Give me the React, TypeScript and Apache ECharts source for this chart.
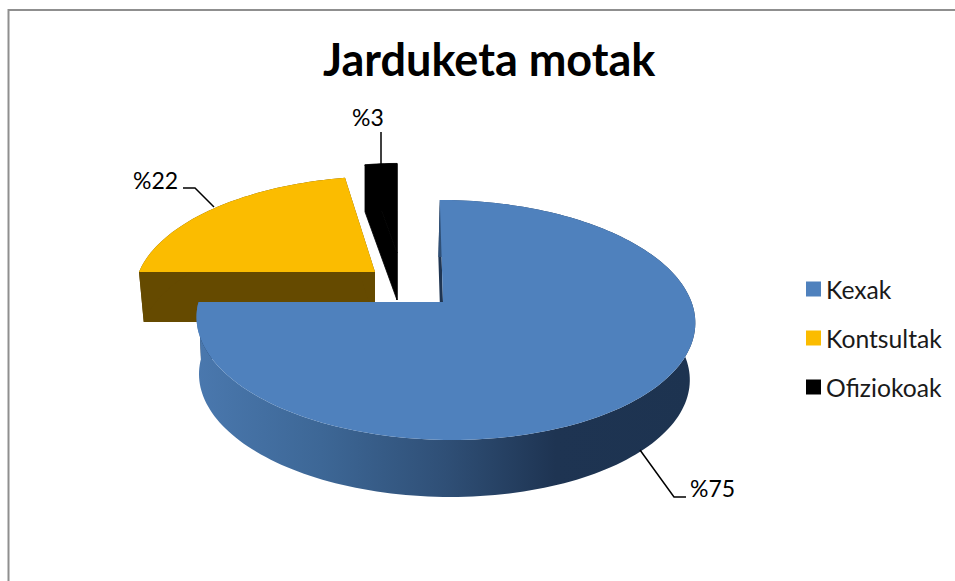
import React, { useEffect, useRef } from "react";
import * as echarts from "echarts";

const titleText = "Jarduketa motak";
const categories = ["Kexak", "Kontsultak", "Ofiziokoak"];
const values = [75, 22, 3];
const topColors = ["#4f81bd", "#fbbc00", "#000000"];
const wallColors = ["#1f3552", "#654a00", "#000000"];
const drawOrder = [1, 2, 0];
const FONT = "Lato, Carlito, 'Open Sans', sans-serif";

// Per-slice projection of the tilted, exploded 3D pie.
const projections = [
  { ax: 445, apexX: 443, ay: 302, rx: 246.5, ry: 117.3, k: 0.15, skew: 6, depth: 57, shrink: 0.984, shiftB: -1.5, seam: 0 },
  { ax: 375, apexX: 375, ay: 272, rx: 236, ry: 110, k: 0.15, skew: -10, depth: 50, shrink: 0.98, shiftB: 0, seam: 0 },
  { ax: 397, apexX: 397, ay: 253, rx: 196, ry: 103, k: 0.15, skew: 0, depth: 47, shrink: 1, shiftB: 0, seam: 0.8 },
];
// Data-label placement and leader lines.
const labelLayouts = [
  { x: 690, y: 488, line: [[640, 450], [674, 497], [686, 497]] },
  { x: 133, y: 180, line: [[183, 188], [195, 188], [214, 207]] },
  { x: 352, y: 117, line: [[381, 132], [381, 164]] },
];

const total = values.reduce((a, b) => a + b, 0);

function makeRenderItem(index: number) {
  return (_params: any, api: any) => {
    const value = api.value(0);
    const before = values.slice(0, index).reduce((a, b) => a + b, 0);
    const t0 = (before / total) * Math.PI * 2;
    const t1 = t0 + (value / total) * Math.PI * 2;
    const p = projections[index];
    const top = (t: number) => {
      const u = Math.sin(t);
      const v = Math.cos(t);
      const w = 1 + p.k * v;
      return [p.ax + (p.rx * u - p.skew * v) / w, p.ay - (p.ry * v) / w];
    };
    const down = (q: number[]) => [
      p.ax + (q[0] - p.ax) * p.shrink + p.shiftB,
      q[1] + p.depth,
    ];
    const arc: number[][] = [];
    const steps = Math.max(8, Math.round((t1 - t0) / (Math.PI / 120)));
    for (let i = 0; i <= steps; i++) arc.push(top(t0 + ((t1 - t0) * i) / steps));
    const apex = [p.apexX, p.ay];
    const wallFill =
      index === 0
        ? new echarts.graphic.LinearGradient(0, 0, 1, 0, [
            { offset: 0, color: "#4a78ae" },
            { offset: 0.25, color: "#3d6796" },
            { offset: 0.5, color: "#2f4f76" },
            { offset: 0.72, color: "#1e3452" },
            { offset: 1, color: "#1d3350" },
          ])
        : wallColors[index];
    const radial = (q: number[]) => ({
      type: "polygon",
      shape: { points: [q, apex, down(apex), down(q)] },
      style: { fill: wallColors[index], stroke: wallColors[index], lineWidth: p.seam },
    });
    const layout = labelLayouts[index];
    return {
      type: "group",
      children: [
        radial(arc[0]),
        radial(arc[arc.length - 1]),
        {
          type: "polygon",
          shape: { points: [...arc, ...arc.slice().reverse().map(down)] },
          style: { fill: wallFill },
        },
        {
          type: "polygon",
          shape: { points: [apex, ...arc] },
          style: { fill: topColors[index], stroke: topColors[index], lineWidth: p.seam },
        },
        {
          type: "polyline",
          shape: { points: layout.line },
          style: { stroke: "#000", lineWidth: 1.5, fill: "none" },
        },
        {
          type: "text",
          style: {
            text: `%${value}`,
            x: layout.x,
            y: layout.y,
            fill: "#000",
            fontSize: 23,
            fontFamily: FONT,
            verticalAlign: "middle",
          },
        },
      ],
    };
  };
}

export default function App() {
  const ref = useRef<HTMLDivElement>(null);
  useEffect(() => {
    const chart = echarts.init(ref.current!, null, { renderer: "svg" });
    chart.setOption({
      animation: false,
      backgroundColor: "#fff",
      title: {
        text: titleText,
        left: 318,
        top: 31,
        textStyle: { fontFamily: FONT, fontWeight: "bold", fontSize: 45, color: "#000" },
      },
      legend: {
        data: categories,
        orient: "vertical",
        left: 806,
        top: 276,
        padding: 0,
        icon: "rect",
        itemWidth: 15,
        itemHeight: 15,
        itemGap: 23,
        textStyle: {
          fontFamily: FONT,
          fontSize: 24.7,
          color: "#1a1a1a",
          padding: [0, 0, 0, 0],
          lineHeight: 26,
        },
      },
      graphic: [
        {
          type: "polyline",
          shape: { points: [[8.5, 581], [8.5, 10], [955, 10]] },
          style: { stroke: "#8f8f8f", lineWidth: 2, fill: "none" },
          silent: true,
        },
      ],
      series: drawOrder.map((i) => ({
        type: "custom",
        name: categories[i],
        coordinateSystem: "none",
        itemStyle: { color: topColors[i] },
        data: [[values[i]]],
        renderItem: makeRenderItem(i),
      })),
    });
    return () => chart.dispose();
  }, []);
  return (
    <div
      ref={ref}
      style={{ position: "absolute", left: 0, top: 0, width: 955, height: 581 }}
    />
  );
}
